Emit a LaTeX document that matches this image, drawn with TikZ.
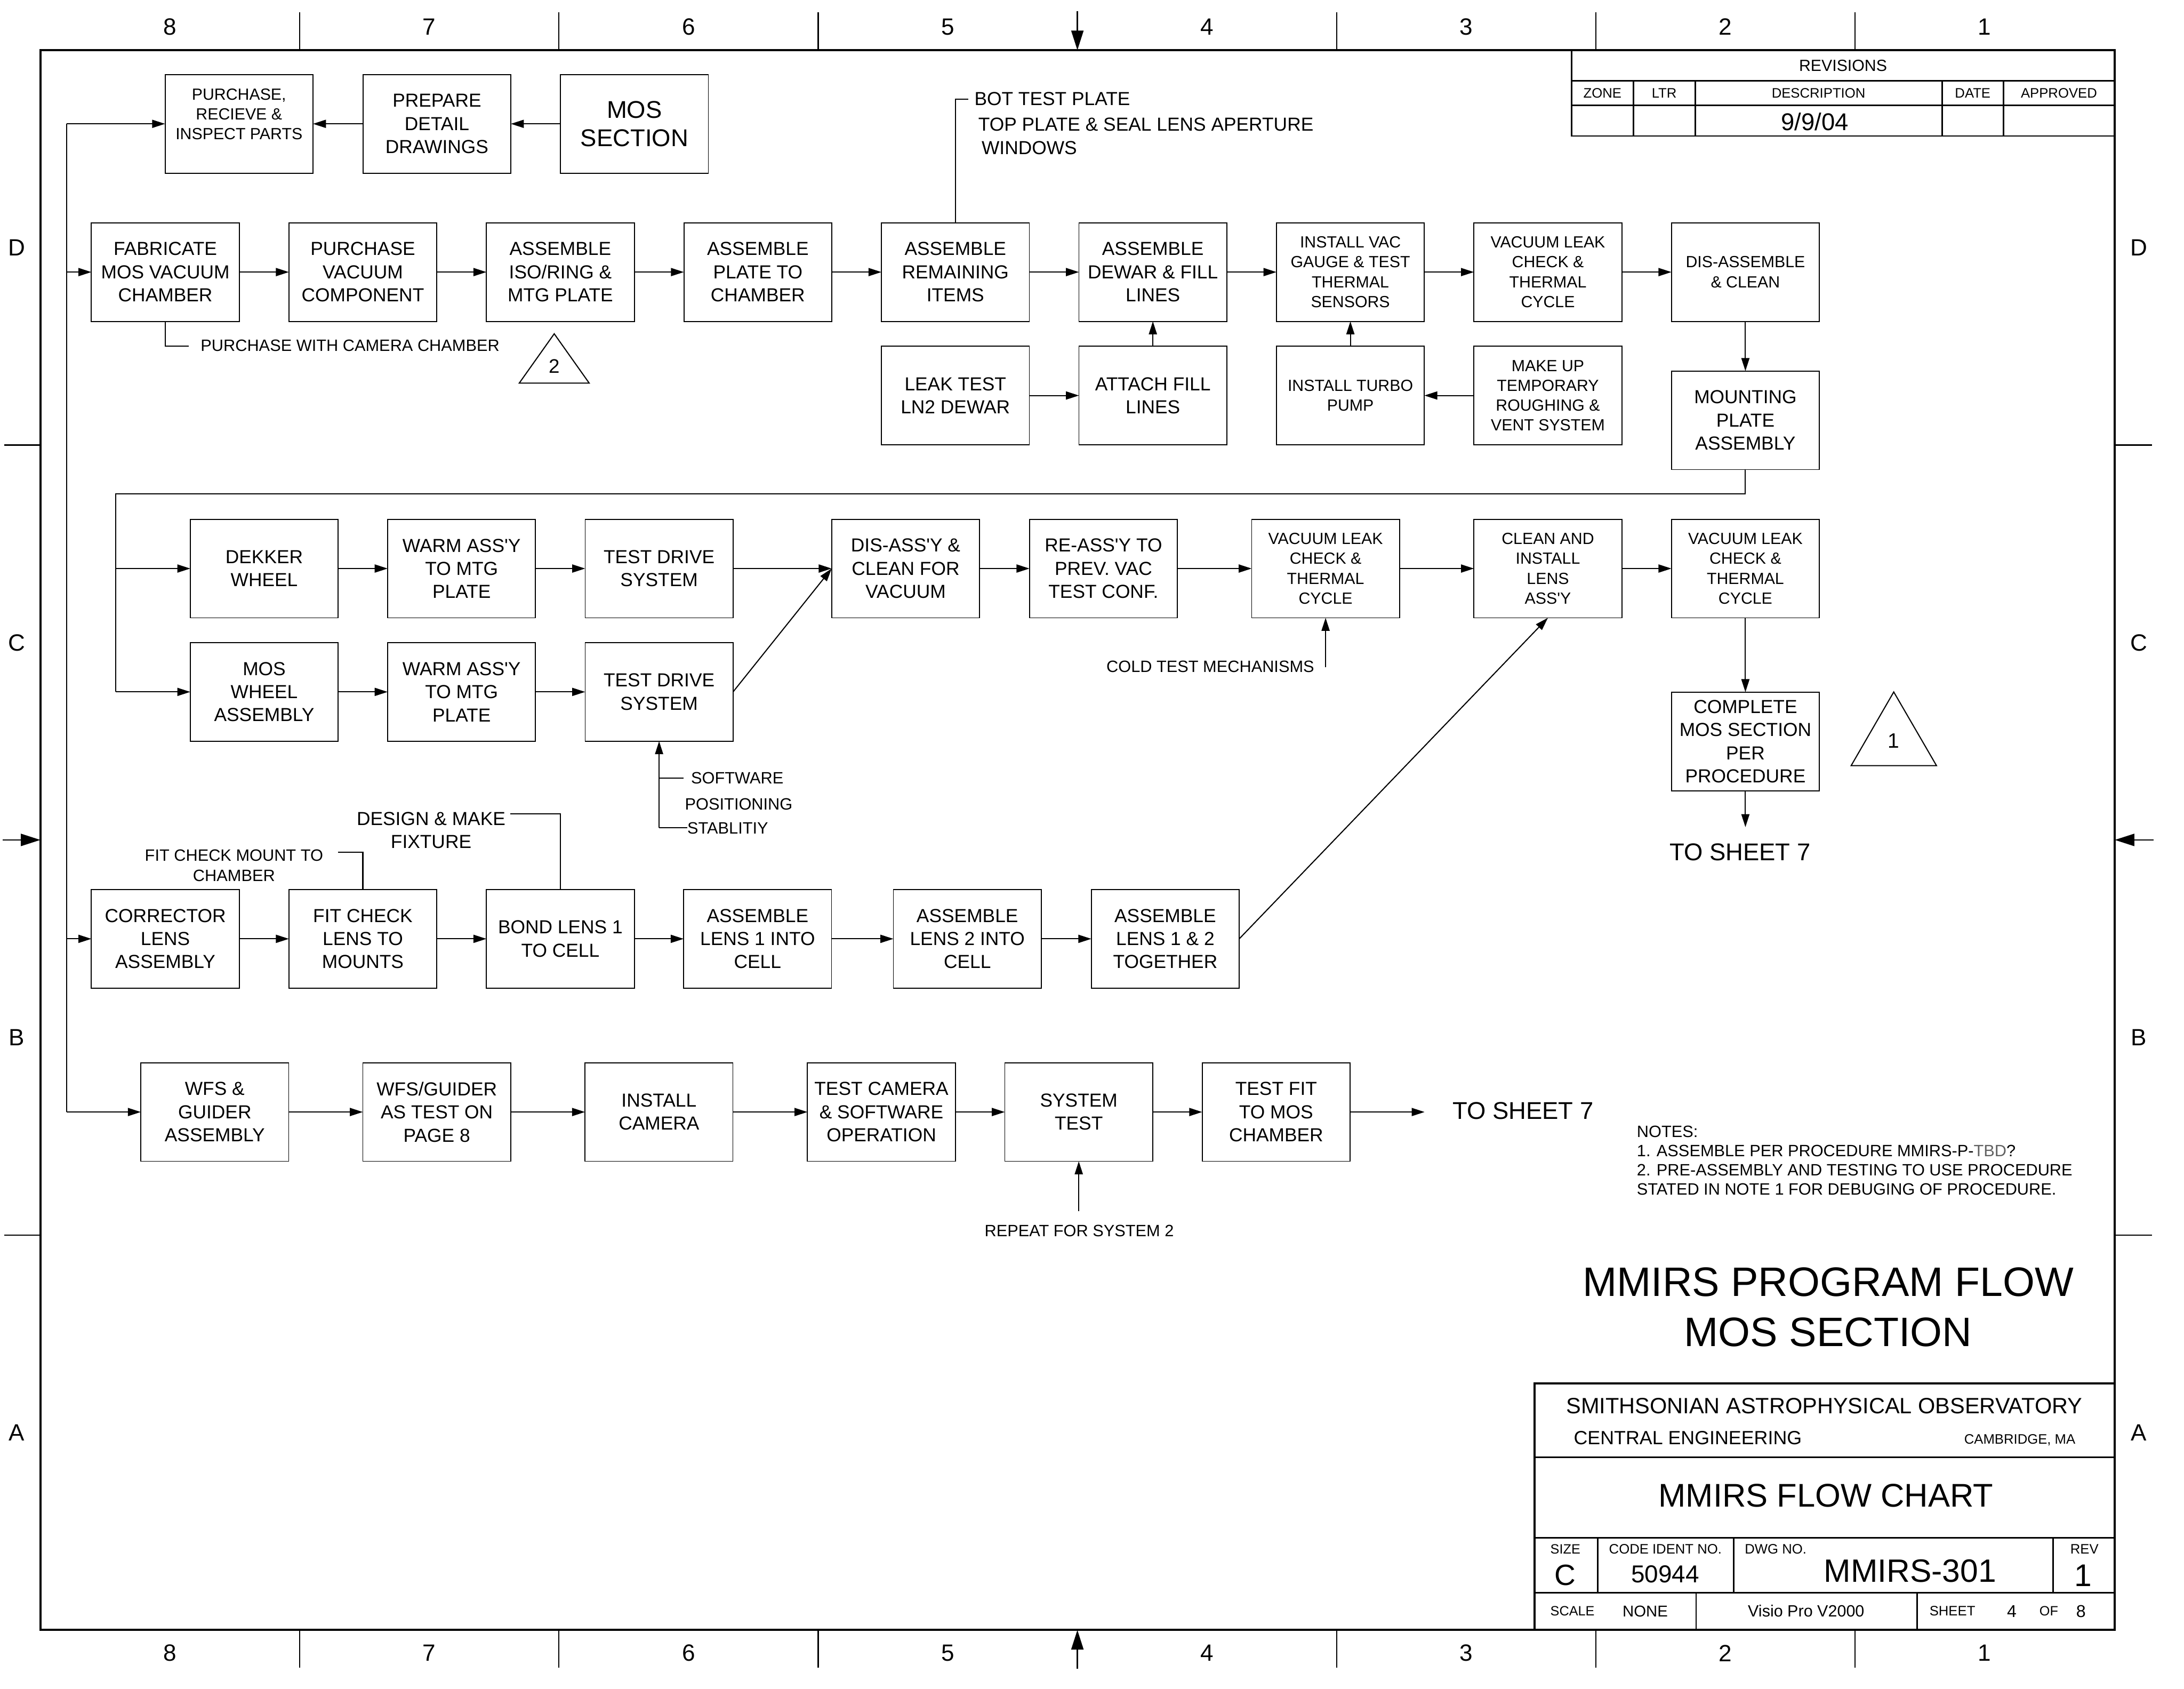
\documentclass[tikz,border=0pt]{standalone}
\usepackage{fontspec}
\setmainfont{Liberation Sans}
\usetikzlibrary{arrows.meta}
\definecolor{tbdgray}{gray}{0.38}
\newcommand{\fsz}[2]{\fontsize{#1}{#2}\selectfont}
\newcommand{\ap}{\textquotesingle}
\begin{document}
\begin{tikzpicture}[x=0.02cm,y=-0.02cm,
  every node/.style={inner sep=0pt,outer sep=0pt},
  stepbox/.style={draw,line width=0.4pt,minimum width=2.124cm,minimum height=1.416cm,
    align=center,font=\fsz{7.7}{9.45}},
  smallbox/.style={stepbox,font=\fsz{6.6}{8.1}},
  flow/.style={line width=0.45pt,-{Triangle[length=5.3pt,width=3.3pt]}},
  lead/.style={line width=0.45pt},
  frameline/.style={line width=0.9pt},
  tbl/.style={line width=0.6pt},
  tick/.style={line width=0.5pt},
  cmark/.style={line width=0.5pt,-{Triangle[length=8pt,width=5pt]}},
  zone/.style={font=\fsz{9.6}{11}},
  lbl/.style={font=\fsz{6.7}{8.1}},
  mid/.style={font=\fsz{7.7}{9.45}},
  big/.style={font=\fsz{9.9}{11.7}},
]
\useasboundingbox (0,0) rectangle (1568,1212);
\fill[white] (0,0) rectangle (1568,1212);

% ---------- drawing frame and zone markers ----------
\draw[frameline] (29,36) rectangle (1518.3,1170);
\foreach \x in {215.1,401.2,587.4,959.6,1145.8,1331.9} {
  \draw[tick] (\x,9) -- (\x,36);
  \draw[tick] (\x,1170) -- (\x,1197);
}
\foreach \y in {319.5,886.5} {
  \draw[tick] (3,\y) -- (29,\y);
  \draw[tick] (1518.3,\y) -- (1545,\y);
}
\draw[cmark] (773.5,8) -- (773.5,36);
\draw[cmark] (773.5,1198) -- (773.5,1170);
\draw[cmark] (2,602.9) -- (29,602.9);
\draw[cmark] (1546,602.9) -- (1518.3,602.9);
\foreach \n/\x in {8/122.1,7/308.2,6/494.3,5/680.4,4/866.5,3/1052.6,2/1238.7,1/1424.8} {
  \node[zone] (zt\n) at (\x,19.3) {\n};
  \node[zone] (zb\n) at (\x,1186.6) {\n};
}
\foreach \l/\y in {D/177.8,C/461.3,B/744.8,A/1028.3} {
  \node[zone] (zl\l) at (12,\y) {\l};
  \node[zone] (zr\l) at (1535.5,\y) {\l};
}

% ---------- revisions table ----------
\draw[tbl] (1128.4,36) rectangle (1518.3,97.6);
\draw[tbl] (1128.4,58.1) -- (1518.3,58.1);
\draw[tbl] (1128.4,75.6) -- (1518.3,75.6);
\foreach \x in {1172.6,1217,1394.3,1438.4} \draw[tbl] (\x,58.1) -- (\x,97.6);
\node[font=\fsz{6.6}{8}] (rev) at (1323.2,47) {REVISIONS};
\node[font=\fsz{5.6}{7}] (rzone) at (1150.5,66.9) {ZONE};
\node[font=\fsz{5.6}{7}] (rltr) at (1194.8,66.9) {LTR};
\node[font=\fsz{5.6}{7}] (rdesc) at (1305.6,66.9) {DESCRIPTION};
\node[font=\fsz{5.6}{7}] (rdate) at (1416.3,66.9) {DATE};
\node[font=\fsz{5.6}{7}] (rappr) at (1478.2,66.9) {APPROVED};
\node[font=\fsz{9.9}{11}] (rdat) at (1303,87.5) {9/9/04};

% ---------- title block ----------
\draw[frameline] (1101.8,1170) |- (1518.3,993);
\draw[tbl] (1101.8,1045.9) -- (1518.3,1045.9);
\draw[tbl] (1101.8,1103.7) -- (1518.3,1103.7);
\draw[tbl] (1101.8,1143.3) -- (1518.3,1143.3);
\foreach \x in {1147,1244.8,1474} \draw[tbl] (\x,1103.7) -- (\x,1143.3);
\foreach \x in {1217.7,1376.4} \draw[tbl] (\x,1143.3) -- (\x,1170);
\node[font=\fsz{9.05}{11}] (sao) at (1309.7,1009) {SMITHSONIAN ASTROPHYSICAL OBSERVATORY};
\node[font=\fsz{7.8}{9}, anchor=west] (ce) at (1129.9,1032) {CENTRAL ENGINEERING};
\node[font=\fsz{5.6}{7}, anchor=east] (cam) at (1490,1033.6) {CAMBRIDGE, MA};
\node[font=\fsz{13.4}{15}] (fc) at (1310.9,1073.5) {MMIRS FLOW CHART};
\node[font=\fsz{5.5}{7}, anchor=west] (tsize) at (1113.1,1112) {SIZE};
\node[font=\fsz{12}{14}] (tc) at (1123.8,1130.8) {C};
\node[font=\fsz{5.6}{7}, anchor=west] (tcode) at (1155.2,1112) {CODE IDENT NO.};
\node[font=\fsz{10}{12}] (tcodev) at (1195.5,1130) {50944};
\node[font=\fsz{5.6}{7}, anchor=west] (tdwg) at (1252.7,1112) {DWG NO.};
\node[font=\fsz{13.2}{15}] (tdwgv) at (1371.4,1127.8) {MMIRS-301};
\node[font=\fsz{5.6}{7}, anchor=west] (trev) at (1486.4,1112) {REV};
\node[font=\fsz{12.8}{15}] (trevv) at (1495.6,1130.8) {1};
\node[font=\fsz{5.5}{7}, anchor=west] (tscale) at (1113.1,1156.5) {SCALE};
\node[font=\fsz{6.4}{8}, anchor=west] (tscalev) at (1164.9,1156.5) {NONE};
\node[font=\fsz{6.65}{8}] (tsw) at (1296.7,1156.5) {Visio Pro V2000};
\node[font=\fsz{5.6}{7}, anchor=west] (tsheet) at (1385.3,1156.5) {SHEET};
\node[font=\fsz{7}{8}] (tsheetv) at (1444.4,1156.5) {4};
\node[font=\fsz{5.5}{7}] (tof) at (1470.9,1156.5) {OF};
\node[font=\fsz{7}{8}] (tofv) at (1494,1156.5) {8};

% ---------- titles and notes ----------
\node[font=\fsz{16.8}{20.4}, align=center] (title) at (1312.5,938.25) {MMIRS PROGRAM FLOW\\MOS SECTION};
\node[font=\fsz{6.7}{7.85}, align=left, anchor=north west] (notes) at (1175.2,808)
  {NOTES:\\1. ASSEMBLE PER PROCEDURE MMIRS-P-{\color{tbdgray}TBD}?\\2. PRE-ASSEMBLY AND TESTING TO USE PROCEDURE\\STATED IN NOTE 1 FOR DEBUGING OF PROCEDURE.};

% ---------- process boxes ----------
% top row
\node[stepbox, font=\fsz{6.6}{8.05}] (buy) at (171.6,88.9) {PURCHASE,\\RECIEVE \&\\INSPECT PARTS\\\mbox{}};
\node[stepbox] (prep) at (313.7,88.9) {PREPARE\\DETAIL\\DRAWINGS};
\node[stepbox, font=\fsz{9.9}{11.7}] (mos) at (455.5,88.9) {MOS\\SECTION};
% chamber row
\node[stepbox] (fab) at (118.7,195.3) {FABRICATE\\MOS VACUUM\\CHAMBER};
\node[stepbox] (pvc) at (260.5,195.3) {PURCHASE\\VACUUM\\COMPONENT};
\node[stepbox] (iso) at (402.3,195.3) {ASSEMBLE\\ISO/RING \&\\MTG PLATE};
\node[stepbox] (plate) at (544.1,195.3) {ASSEMBLE\\PLATE TO\\CHAMBER};
\node[stepbox] (rem) at (685.9,195.3) {ASSEMBLE\\REMAINING\\ITEMS};
\node[stepbox] (dewar) at (827.7,195.3) {ASSEMBLE\\DEWAR \& FILL\\LINES};
\node[smallbox] (gauge) at (969.5,195.3) {INSTALL VAC\\GAUGE \& TEST\\THERMAL\\SENSORS};
\node[smallbox] (vlca) at (1111.3,195.3) {VACUUM LEAK\\CHECK \&\\THERMAL\\CYCLE};
\node[smallbox] (disasm) at (1253.1,195.3) {DIS-ASSEMBLE\\\& CLEAN};
\node[stepbox] (ln2) at (685.9,283.9) {LEAK TEST\\LN2 DEWAR};
\node[stepbox] (fill) at (827.7,283.9) {ATTACH FILL\\LINES};
\node[smallbox] (turbo) at (969.5,283.9) {INSTALL TURBO\\PUMP};
\node[smallbox] (rough) at (1111.3,283.9) {MAKE UP\\TEMPORARY\\ROUGHING \&\\VENT SYSTEM};
\node[stepbox] (mount) at (1253.1,301.7) {MOUNTING\\PLATE\\ASSEMBLY};
% wheel rows
\node[stepbox] (dekker) at (189.7,408.1) {DEKKER\\WHEEL};
\node[stepbox] (warma) at (331.4,408.1) {WARM ASS\ap Y\\TO MTG\\PLATE};
\node[stepbox] (drivea) at (473.2,408.1) {TEST DRIVE\\SYSTEM};
\node[stepbox] (clnvac) at (650.2,408.1) {DIS-ASS\ap Y \&\\CLEAN FOR\\VACUUM};
\node[stepbox] (reasm) at (792.2,408.1) {RE-ASS\ap Y TO\\PREV. VAC\\TEST CONF.};
\node[smallbox] (vlcb) at (951.7,408.1) {VACUUM LEAK\\CHECK \&\\THERMAL\\CYCLE};
\node[smallbox] (lens) at (1111.3,408.1) {CLEAN AND\\INSTALL\\LENS\\ASS\ap Y};
\node[smallbox] (vlcc) at (1253.1,408.1) {VACUUM LEAK\\CHECK \&\\THERMAL\\CYCLE};
\node[stepbox] (moswh) at (189.7,496.65) {MOS\\WHEEL\\ASSEMBLY};
\node[stepbox] (warmb) at (331.4,496.65) {WARM ASS\ap Y\\TO MTG\\PLATE};
\node[stepbox] (driveb) at (473.2,496.65) {TEST DRIVE\\SYSTEM};
\node[stepbox] (done) at (1253.1,532.2) {COMPLETE\\MOS SECTION\\PER\\PROCEDURE};
% corrector row
\node[stepbox] (corr) at (118.7,673.9) {CORRECTOR\\LENS\\ASSEMBLY};
\node[stepbox] (fit) at (260.5,673.9) {FIT CHECK\\LENS TO\\MOUNTS};
\node[stepbox] (bond) at (402.3,673.9) {BOND LENS 1\\TO CELL};
\node[stepbox] (lensa) at (543.9,673.9) {ASSEMBLE\\LENS 1 INTO\\CELL};
\node[stepbox] (lensb) at (694.5,673.9) {ASSEMBLE\\LENS 2 INTO\\CELL};
\node[stepbox] (lensab) at (836.6,673.9) {ASSEMBLE\\LENS 1 \& 2\\TOGETHER};
% camera row
\node[stepbox] (wfs) at (154.2,798.2) {WFS \&\\GUIDER\\ASSEMBLY};
\node[stepbox] (wfst) at (313.6,798.2) {WFS/GUIDER\\AS TEST ON\\PAGE 8};
\node[stepbox] (cam) at (473.1,798.2) {INSTALL\\CAMERA};
\node[stepbox] (camsw) at (632.8,798.2) {TEST CAMERA\\\& SOFTWARE\\OPERATION};
\node[stepbox] (sys) at (774.5,798.2) {SYSTEM\\TEST};
\node[stepbox] (fitmos) at (916.2,798.2) {TEST FIT\\TO MOS\\CHAMBER};

% ---------- annotations ----------
\node[lbl, anchor=west] (pwc) at (144.1,248) {PURCHASE WITH CAMERA CHAMBER};
\node[mid, anchor=west] (bot) at (699.6,70.8) {BOT TEST PLATE};
\node[mid, anchor=west] (top) at (702.4,89.2) {TOP PLATE \& SEAL LENS APERTURE};
\node[mid, anchor=west] (win) at (704.8,106.1) {WINDOWS};
\node[lbl, anchor=east] (cold) at (943.5,478.6) {COLD TEST MECHANISMS};
\node[lbl, anchor=west] (soft) at (496.2,558.6) {SOFTWARE};
\node[lbl, anchor=west] (posn) at (491.8,577.4) {POSITIONING};
\node[lbl, anchor=west] (stab) at (493.5,594.3) {STABLITIY};
\node[mid, align=center] (fix) at (309.5,595.9) {DESIGN \& MAKE\\FIXTURE};
\node[lbl, align=center] (fcm) at (168,621.3) {FIT CHECK MOUNT TO\\CHAMBER};
\node[lbl] (rep) at (774.8,883.4) {REPEAT FOR SYSTEM 2};
\node[big] (sheeta) at (1249.2,611.7) {TO SHEET 7};
\node[big] (sheetb) at (1093.4,797.2) {TO SHEET 7};

% note callout triangles
\draw[lead] (397.9,239.6) -- (423,275) -- (372.8,275) -- cycle;
\node[font=\fsz{8}{9}] (tri2) at (397.9,263) {2};
\draw[lead] (1359.6,496.7) -- (1390.3,549.6) -- (1329,549.6) -- cycle;
\node[font=\fsz{8.5}{10}] (tri1) at (1359.6,531.7) {1};

% ---------- connectors ----------
\coordinate (sp0) at (47.8,88.9);
\coordinate (sp4) at (47.8,798.2);
\draw[lead] (sp0) -- (sp4);
\draw[flow] (sp0) -- (buy.west);
\draw[flow] (sp0 |- fab.west) -- (fab.west);
\draw[flow] (sp0 |- corr.west) -- (corr.west);
\draw[flow] (sp4) -- (wfs.west);

\draw[flow] (mos.west) -- (prep.east);
\draw[flow] (prep.west) -- (buy.east);

\foreach \a/\b in {fab/pvc,pvc/iso,iso/plate,plate/rem,rem/dewar,dewar/gauge,gauge/vlca,vlca/disasm,
  ln2/fill,dekker/warma,warma/drivea,drivea/clnvac,clnvac/reasm,reasm/vlcb,vlcb/lens,lens/vlcc,
  moswh/warmb,warmb/driveb,corr/fit,fit/bond,bond/lensa,lensa/lensb,lensb/lensab,
  wfs/wfst,wfst/cam,cam/camsw,camsw/sys,sys/fitmos}
  \draw[flow] (\a.east) -- (\b.west);
\draw[flow] (disasm.south) -- (mount.north);
\draw[flow] (fill.north) -- (dewar.south);
\draw[flow] (rough.west) -- (turbo.east);
\draw[flow] (turbo.north) -- (gauge.south);

\coordinate (lp) at (83,354.6);
\draw[lead] (mount.south) |- (lp) -- (lp |- moswh.west);
\draw[flow] (lp |- dekker.west) -- (dekker.west);
\draw[flow] (lp |- moswh.west) -- (moswh.west);

\draw[flow] (driveb.east) -- (clnvac.west);
\draw[flow] (lensab.east) -- (lens.south);
\draw[flow] (vlcc.south) -- (done.north);
\coordinate (sheetain) at (1253.1,593.7);
\draw[flow] (done.south) -- (sheetain);
\coordinate (sheetbin) at (1022.8,798.2);
\draw[flow] (fitmos.east) -- (sheetbin);

% leaders
\coordinate (pwcend) at (135.6,248.5);
\draw[lead] (fab.south) |- (pwcend);
\coordinate (botend) at (695.1,71.2);
\draw[lead] (rem.north) |- (botend);
\coordinate (swb) at (473.2,594.3);
\draw[flow] (swb) -- (driveb.south);
\draw[lead] (swb) -- (stab.west);
\draw[lead] (swb |- soft.west) -- ++(17.6,0);
\coordinate (cold0) at (951.7,479);
\draw[flow] (cold0) -- (vlcb.south);
\coordinate (fcmend) at (242.8,611.8);
\draw[lead] (fit.north) |- (fcmend);
\coordinate (fixend) at (366.5,584.2);
\draw[lead] (bond.north) |- (fixend);
\coordinate (rep0) at (774.5,869.2);
\draw[flow] (rep0) -- (sys.south);
\end{tikzpicture}
\end{document}
